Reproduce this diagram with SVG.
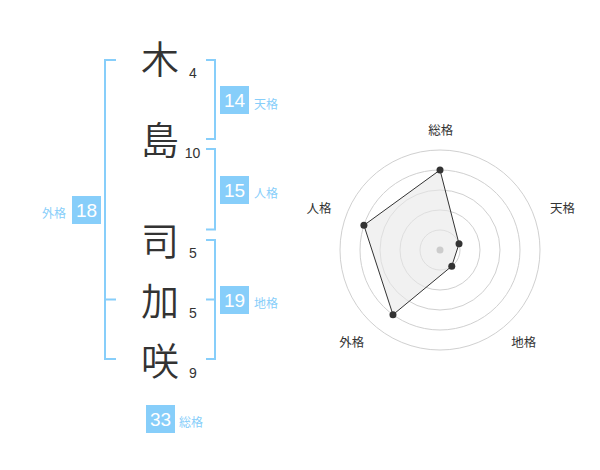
<svg xmlns="http://www.w3.org/2000/svg" width="600" height="470" viewBox="0 0 600 470">
<style>
.kanji{font-family:"Noto Sans CJK JP",sans-serif;font-size:38px;font-weight:350;fill:#333;text-anchor:middle}
.num{font-family:"Liberation Sans",Arial,sans-serif;font-size:14px;fill:#333;text-anchor:middle}
.box{fill:#87cefa}
.boxt{font-family:"Liberation Sans",Arial,sans-serif;font-size:19px;fill:#fff;text-anchor:middle}
.lab{font-family:"Noto Sans CJK JP",sans-serif;font-size:12px;fill:#87cefa}
.br{fill:none;stroke:#87cefa;stroke-width:2}
.ring{fill:none;stroke:#d0d0d0;stroke-width:1}
.rl{font-family:"Noto Sans CJK JP",sans-serif;font-size:12.5px;fill:#333;text-anchor:middle}
.dot{fill:#333}
</style>
<rect width="600" height="470" fill="#fff"/>
<g id="connectors">
<path class="br" d="M116,60 H105 V359 H116 M105,299.5 H116"/>
<path class="br" d="M206,60 H215 V139 H206"/>
<path class="br" d="M206,149 H215 V229.5 H206"/>
<path class="br" d="M206,240 H215 V359 H206 M206,299.5 H215"/>
</g>
<g id="char-ki"><text class="kanji" x="160" y="72.5">木</text><text class="num" x="193" y="78">4</text></g>
<g id="char-shima"><text class="kanji" x="160" y="153.5">島</text><text class="num" x="192.5" y="158">10</text></g>
<g id="char-tsukasa"><text class="kanji" x="160" y="254.5">司</text><text class="num" x="193" y="258">5</text></g>
<g id="char-ka"><text class="kanji" x="160" y="314.5">加</text><text class="num" x="193" y="318">5</text></g>
<g id="char-saki"><text class="kanji" x="160" y="374.5">咲</text><text class="num" x="193" y="378">9</text></g>
<g id="gaikaku"><rect class="box" x="72" y="196" width="29" height="28"/><text class="boxt" x="86.5" y="217">18</text><text class="lab" x="66" y="217.5" text-anchor="end">外格</text></g>
<g id="tenkaku"><rect class="box" x="220" y="86" width="29" height="28"/><text class="boxt" x="234.5" y="107">14</text><text class="lab" x="254" y="108.5">天格</text></g>
<g id="jinkaku"><rect class="box" x="220" y="176" width="29" height="28"/><text class="boxt" x="234.5" y="197">15</text><text class="lab" x="254" y="197.5">人格</text></g>
<g id="chikaku"><rect class="box" x="220" y="286" width="29" height="28"/><text class="boxt" x="234.5" y="307">19</text><text class="lab" x="254" y="307.5">地格</text></g>
<g id="soukaku"><rect class="box" x="146" y="405" width="29" height="28"/><text class="boxt" x="160.5" y="426">33</text><text class="lab" x="179" y="427">総格</text></g>
<g id="radar">
<circle class="ring" cx="440" cy="250" r="20"/>
<circle class="ring" cx="440" cy="250" r="40"/>
<circle class="ring" cx="440" cy="250" r="60"/>
<circle class="ring" cx="440" cy="250" r="80"/>
<circle class="ring" cx="440" cy="250" r="100"/>
<polygon points="440,170 459.02,243.82 451.76,266.18 392.98,314.72 363.91,225.28" fill="#e8e8e8" fill-opacity="0.6" stroke="#333" stroke-width="1"/>
<circle cx="440" cy="250" r="3.5" fill="#ccc"/>
<circle class="dot" cx="440" cy="170" r="3.5"/>
<circle class="dot" cx="459.02" cy="243.82" r="3.5"/>
<circle class="dot" cx="451.76" cy="266.18" r="3.5"/>
<circle class="dot" cx="392.98" cy="314.72" r="3.5"/>
<circle class="dot" cx="363.91" cy="225.28" r="3.5"/>
<text class="rl" x="440.8" y="135">総格</text>
<text class="rl" x="562.5" y="213">天格</text>
<text class="rl" x="523.8" y="346.5">地格</text>
<text class="rl" x="351.7" y="346.5">外格</text>
<text class="rl" x="319" y="213">人格</text>
</g>
</svg>
